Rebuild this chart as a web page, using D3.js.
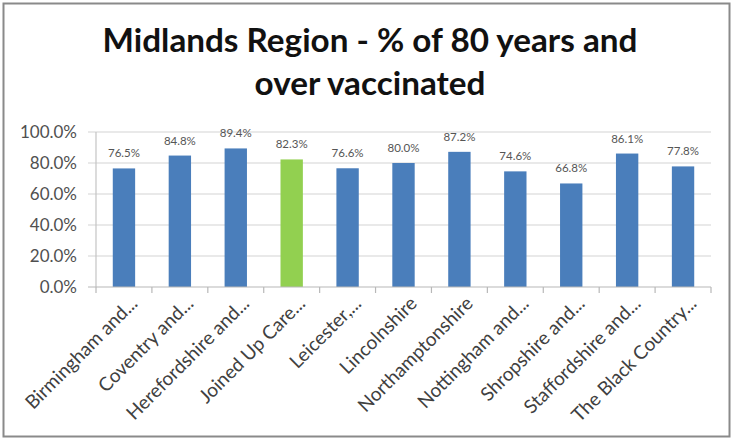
<!DOCTYPE html>
<html>
<head>
<meta charset="utf-8">
<script src="https://cdn.jsdelivr.net/npm/d3@7"></script>
<style>
  body { margin: 0; background: #fff; }
  svg { display: block; }
</style>
</head>
<body>
<svg></svg>
<script>
// chart data
var regions = ["Birmingham and...", "Coventry and...", "Herefordshire and...", "Joined Up Care...",
  "Leicester,...", "Lincolnshire", "Northamptonshire", "Nottingham and...", "Shropshire and...",
  "Staffordshire and...", "The Black Country..."];
var pctVaccinated = [76.5, 84.8, 89.4, 82.3, 76.6, 80.0, 87.2, 74.6, 66.8, 86.1, 77.8];
var highlighted = ["Joined Up Care..."];
var yTicks = [0, 20, 40, 60, 80, 100];
var titleLines = ["Midlands Region - % of 80 years and", "over vaccinated"];

var W = 732, H = 439;
var margin = {top: 132, right: 21, bottom: 152, left: 96},
    width = W - margin.left - margin.right,
    height = H - margin.top - margin.bottom;

var font = "Lato, 'Open Sans', sans-serif";

var svg = d3.select("svg").attr("width", W).attr("height", H);

// outer frame
svg.append("rect")
    .attr("x", 3.5).attr("y", 3.5)
    .attr("width", 726).attr("height", 433)
    .attr("fill", "#fff")
    .attr("stroke", "#8a8a8a")
    .attr("stroke-width", 2);

// title, sized to the width seen in the reference
var title = svg.append("g").attr("font-family", font).attr("font-weight", "bold").attr("fill", "#111");
var t1 = title.append("text").attr("x", 370).attr("y", 52).attr("text-anchor", "middle")
    .attr("font-size", 32).text(titleLines[0]);
var fs = 32 * 535 / t1.node().getComputedTextLength();
t1.attr("font-size", fs);
title.append("text").attr("x", 370).attr("y", 95).attr("text-anchor", "middle")
    .attr("font-size", fs).text(titleLines[1]);

var g = svg.append("g")
    .attr("transform", "translate(" + margin.left + "," + margin.top + ")");

var x = d3.scaleBand().domain(regions).range([0, width]).paddingInner(0.6).paddingOuter(0.3);
var y = d3.scaleLinear().domain([0, 100]).range([height, 0]);

// gridlines (with the little outside tick)
g.append("g")
    .selectAll("line")
    .data(yTicks.filter(function(d) { return d > 0; }))
    .enter().append("line")
    .attr("x1", -8).attr("x2", width)
    .attr("y1", function(d) { return y(d); })
    .attr("y2", function(d) { return y(d); })
    .attr("stroke", "#d4d4d4")
    .attr("stroke-width", 1.2);

// y axis line
g.append("line")
    .attr("x1", 0).attr("x2", 0)
    .attr("y1", 0).attr("y2", height)
    .attr("stroke", "#c4c4c4").attr("stroke-width", 1.2);

// y axis labels
g.append("g")
    .selectAll("text")
    .data(yTicks)
    .enter().append("text")
    .attr("x", -19)
    .attr("y", function(d) { return y(d); })
    .attr("dy", "0.36em")
    .attr("text-anchor", "end")
    .attr("font-family", font)
    .attr("font-size", 17)
    .attr("fill", "#505050")
    .text(function(d) { return d.toFixed(1) + "%"; });

// bars
g.append("g")
    .selectAll("rect")
    .data(pctVaccinated)
    .enter().append("rect")
    .attr("x", function(d, i) { return x(regions[i]); })
    .attr("y", function(d) { return y(d); })
    .attr("width", x.bandwidth())
    .attr("height", function(d) { return height - y(d); })
    .attr("fill", function(d, i) { return highlighted.indexOf(regions[i]) >= 0 ? "#92d050" : "#4a7ebb"; });

// value labels
g.append("g")
    .selectAll("text")
    .data(pctVaccinated)
    .enter().append("text")
    .attr("x", function(d, i) { return x(regions[i]) + x.bandwidth() / 2; })
    .attr("y", function(d) { return y(d) - 11; })
    .attr("text-anchor", "middle")
    .attr("font-family", font)
    .attr("font-size", 11.5)
    .attr("fill", "#555")
    .text(function(d) { return d.toFixed(1) + "%"; });

// x axis baseline and ticks
var step = x.step();
g.append("line")
    .attr("x1", -8).attr("x2", width)
    .attr("y1", height).attr("y2", height)
    .attr("stroke", "#b8b8b8").attr("stroke-width", 1.2);
g.append("g")
    .selectAll("line")
    .data(d3.range(regions.length + 1))
    .enter().append("line")
    .attr("x1", function(i) { return i * step; })
    .attr("x2", function(i) { return i * step; })
    .attr("y1", height).attr("y2", height + 6)
    .attr("stroke", "#b8b8b8").attr("stroke-width", 1.2);

// x labels rotated, sized so "Lincolnshire" matches the reference length
var xl = g.append("g")
    .attr("font-family", font)
    .attr("fill", "#404040");
var probe = xl.append("text").attr("font-size", 13).text(regions[5]);
var xfs = 13 * 100 / probe.node().getComputedTextLength();
probe.remove();
xl.selectAll("text")
    .data(regions)
    .enter().append("text")
    .attr("transform", function(d) {
      return "translate(" + (x(d) + x.bandwidth() / 2 + 10) + "," + (height + 13) + ") rotate(-45)";
    })
    .attr("text-anchor", "end")
    .attr("dy", "0.35em")
    .attr("font-size", xfs)
    .text(function(d) { return d; });
</script>
</body>
</html>
